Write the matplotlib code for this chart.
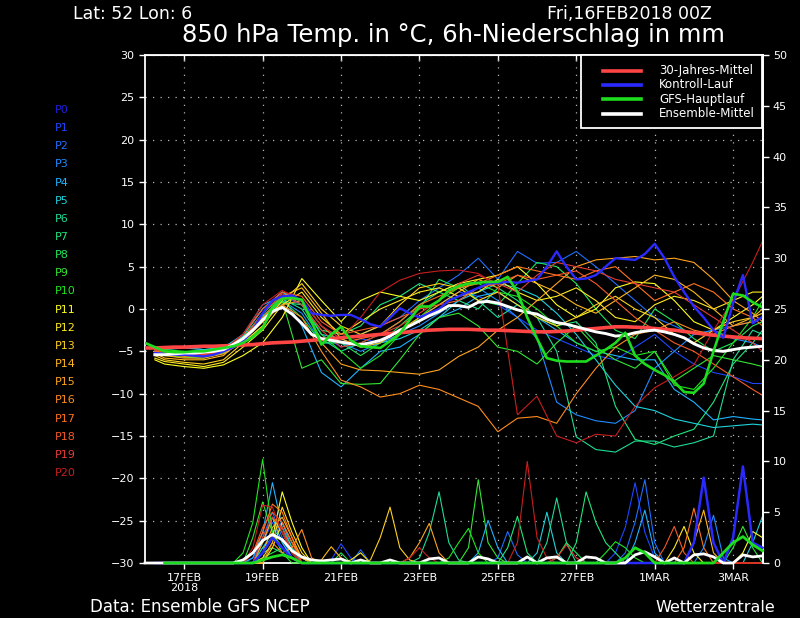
import matplotlib
matplotlib.use("Agg")
import matplotlib.pyplot as plt
from matplotlib.lines import Line2D
from matplotlib.patches import Rectangle

# ---------------- data ----------------
# forecast hours from 16FEB2018 00Z
member_hours = [6] + list(range(12, 373, 12)) + [378]
hours_6h_from0 = list(range(0, 379, 6))
hours_6h_from6 = list(range(6, 379, 6))

date_tick_hours = [24, 72, 120, 168, 216, 264, 312, 360]
date_tick_labels = ["17FEB\n2018", "19FEB", "21FEB", "23FEB", "25FEB", "27FEB", "1MAR", "3MAR"]

member_names = ["P%d" % i for i in range(21)]
member_colors = ["#2020e0", "#1e46ff", "#1e6eff", "#1e8cff", "#1eb4ff", "#1ed2dc",
                 "#1edc96", "#1ee67d", "#1ee65a", "#32e632", "#1ee61e", "#ffff1e",
                 "#ffeb1e", "#ffd21e", "#ffb91e", "#ffa51e", "#ff8c1e", "#ff731e",
                 "#f55a28", "#e63c32", "#c81e1e"]

# 850 hPa temperature of the perturbed members (deg C)
temp_P1 = [-5.0,-5.3,-5.5,-5.6,-5.0,-3.5,-0.5,1.5,0.5,-3.0,-4.5,-3.5,-4.0,-3.0,-1.0,0.5,2.0,1.5,0.5,-1.0,-2.5,-3.5,-4.5,-5.5,-6.0,-4.5,-3.0,-5.0,-6.5,-7.5,-8.0,-8.8,-8.8]
temp_P2 = [-5.2,-5.0,-5.2,-5.4,-4.8,-3.0,0.0,2.0,1.0,-2.0,-3.5,-3.0,-2.0,-1.0,1.0,2.5,4.0,6.0,3.5,6.8,5.4,5.5,6.8,5.0,3.0,1.0,-1.0,-2.0,-3.0,-2.5,-2.0,-1.5,-1.0]
temp_P3 = [-4.8,-5.0,-5.3,-5.5,-5.2,-3.8,-1.0,1.0,-0.5,-4.0,-4.0,-5.0,-4.0,-3.0,-2.0,-0.5,1.0,2.5,1.0,-1.0,-3.5,-11.0,-12.5,-13.2,-13.5,-12.0,-7.0,-5.0,-3.0,-2.5,-3.5,-4.0,-4.5]
temp_P4 = [-4.8,-4.5,-4.5,-4.8,-4.6,-3.0,0.5,1.5,-2.0,-7.5,-9.2,-7.0,-5.0,-4.5,-3.0,-1.0,0.0,1.5,2.0,0.5,-1.0,-2.5,-4.0,-5.0,-5.5,-6.0,-6.0,-9.5,-11.0,-13.1,-12.7,-13.0,-13.1]
temp_P5 = [-5.0,-4.8,-4.6,-4.8,-4.5,-3.2,0.0,2.0,0.5,-3.0,-3.5,-4.5,-4.0,-3.5,-2.5,-1.0,1.0,2.0,3.0,2.5,1.5,-0.5,-3.0,-6.0,-9.0,-11.5,-12.0,-13.0,-13.5,-14.0,-13.8,-13.6,-13.7]
temp_P6 = [-5.0,-5.0,-5.1,-5.3,-4.9,-3.3,-0.8,1.2,0.0,-3.5,-5.0,-4.0,-3.0,-1.5,0.5,2.0,3.0,1.0,-1.0,0.5,-1.0,-5.0,-15.1,-16.6,-16.9,-15.6,-15.6,-16.3,-15.8,-15.0,-6.0,-2.5,-3.0]
temp_P7 = [-5.1,-5.2,-5.4,-5.5,-5.0,-3.7,-1.2,0.8,0.5,-2.5,-3.0,-2.0,0.5,1.5,3.0,2.0,1.0,0.0,2.5,1.0,-1.0,-2.0,-1.5,-4.0,-11.5,-15.4,-16.0,-15.0,-14.2,-11.0,-6.5,-4.0,-2.5]
temp_P8 = [-5.0,-5.1,-5.3,-5.4,-5.0,-3.6,-1.0,1.0,-1.0,-4.0,-4.0,-5.5,-4.0,-2.0,0.0,3.5,2.5,1.0,0.5,3.0,5.5,5.0,3.0,0.0,-2.5,-3.5,0.0,-1.5,-3.5,-5.0,-4.0,-2.0,-1.5]
temp_P9 = [-5.2,-5.5,-5.7,-5.8,-5.2,-4.0,-2.0,1.0,-7.0,-6.0,-8.8,-8.9,-8.8,-6.0,-3.0,-1.0,-0.5,-2.0,-4.5,-5.0,-6.5,-4.0,-2.0,-4.5,-6.0,-7.0,-5.0,-8.5,-7.0,-5.5,-6.0,-6.5,-6.8]
temp_P10 = [-4.6,-4.8,-5.0,-5.2,-4.8,-3.4,-0.5,1.5,1.0,-3.0,-5.0,-7.0,-5.5,-3.0,-1.0,1.0,2.5,3.0,2.0,1.5,0.0,-2.0,-4.0,-5.0,-4.5,-5.5,-5.0,-9.0,-9.5,-7.0,-4.0,-1.0,1.0]
temp_P11 = [-6.0,-6.5,-6.8,-7.0,-6.6,-5.5,-4.0,-1.0,3.6,1.0,-1.5,1.0,2.0,1.5,1.0,2.0,3.0,3.5,4.0,5.0,3.0,0.5,-1.0,0.0,2.5,3.2,3.0,1.0,-1.5,-2.5,-1.0,0.5,1.5]
temp_P12 = [-5.8,-6.2,-6.5,-6.8,-6.3,-4.5,-2.5,0.5,2.0,-1.0,-3.0,-1.5,0.0,1.0,2.0,2.5,1.5,2.0,3.5,2.0,1.0,1.5,2.5,1.0,-1.0,-1.5,0.5,1.5,1.0,0.0,1.0,2.0,2.0]
temp_P13 = [-5.5,-6.0,-6.3,-6.5,-6.0,-4.0,-2.0,1.0,3.0,0.0,-2.0,-3.0,-2.0,0.5,2.5,3.0,2.5,1.0,2.0,0.5,-1.0,-2.0,-1.0,0.5,1.5,0.0,-1.0,-3.0,-4.0,-2.5,-1.5,-1.0,-0.5]
temp_P14 = [-5.2,-5.8,-6.0,-6.0,-5.5,-3.5,-1.5,1.5,2.5,-0.5,-3.5,-4.5,-4.0,-2.5,-1.0,0.5,2.0,3.5,2.5,4.0,3.0,2.0,0.5,-0.5,1.0,2.5,4.0,3.5,2.0,0.0,-2.0,-1.0,0.0]
temp_P15 = [-5.0,-5.5,-5.8,-5.8,-5.3,-3.8,-1.5,0.5,1.0,-4.0,-6.5,-7.2,-7.3,-7.5,-7.7,-7.2,-5.6,-4.5,-2.5,-1.0,1.0,3.0,5.0,5.8,6.0,6.2,5.8,6.0,5.5,3.5,1.0,-0.5,-1.5]
temp_P16 = [-5.0,-5.3,-5.6,-5.5,-5.0,-3.8,-1.5,0.5,-1.0,-5.0,-8.4,-9.2,-10.4,-10.0,-9.0,-9.5,-10.5,-11.5,-14.5,-12.9,-12.7,-13.5,-10.0,-7.0,-4.5,-3.0,-2.5,-1.5,-2.5,-3.0,-2.0,-1.5,-1.0]
temp_P17 = [-5.0,-5.0,-5.2,-5.3,-4.8,-3.5,-1.0,1.5,1.0,-2.0,-4.0,-3.5,-3.0,-1.5,0.5,1.5,2.5,3.0,4.0,5.0,4.5,4.0,3.5,4.5,5.0,3.0,1.0,2.0,3.0,2.0,0.0,-1.0,-2.0]
temp_P18 = [-4.8,-5.0,-5.2,-5.4,-5.0,-3.0,0.0,2.0,1.5,-1.5,-3.0,-2.5,-2.0,-1.0,0.0,0.5,1.0,2.5,3.0,4.0,3.5,4.0,4.5,3.0,1.0,-1.0,-2.5,-4.0,-5.0,-6.5,-8.0,-9.5,-10.2]
temp_P19 = [-4.8,-5.1,-5.3,-5.5,-5.0,-3.5,-0.5,1.8,0.5,-2.5,-4.5,-4.0,-3.0,-2.0,-0.5,1.0,3.0,4.0,3.0,2.0,4.0,5.5,5.0,4.5,3.5,3.0,2.5,2.0,0.5,-1.0,-2.5,-4.0,-5.0]
temp_P20 = [-4.6,-5.0,-5.2,-5.3,-4.8,-3.0,0.5,2.2,1.0,-2.0,-3.5,-1.0,2.0,3.4,4.2,4.5,4.6,4.2,2.8,-12.5,-10.3,-15.0,-15.8,-14.8,-15.0,-11.5,-9.3,-8.0,-6.6,-2.5,1.0,5.5,8.0]

temp_members = [temp_P1, temp_P2, temp_P3, temp_P4, temp_P5, temp_P6, temp_P7,
                temp_P8, temp_P9, temp_P10, temp_P11, temp_P12, temp_P13, temp_P14,
                temp_P15, temp_P16, temp_P17, temp_P18, temp_P19, temp_P20]

# control run (P0), 6-hourly from h6
temp_control = [-5.2,-5.3,-5.4,-5.4,-5.5,-5.6,-5.4,-5.0,
                -4.5,-3.8,-2.5,-0.5,1.0,1.5,1.6,1.0,
                -0.5,-0.7,-0.8,-0.7,-0.7,-1.2,-1.8,-2.1,
                -1.0,0.1,-0.5,-1.0,-0.5,0.0,1.0,1.5,
                2.0,2.5,3.0,3.1,3.2,3.1,3.3,3.5,
                5.0,6.8,5.0,3.5,3.6,4.0,5.0,6.0,
                5.9,5.8,6.5,7.7,6.0,3.8,2.0,0.3,
                -1.0,-2.5,-3.4,0.7,4.0,-1.7,-0.9]
# GFS main run, 6-hourly from h0
temp_gfs = [-4.0,-4.5,-5.0,-5.1,-5.1,-5.0,-5.0,-4.8,
            -4.6,-4.4,-4.0,-3.3,-2.3,0.2,1.2,1.3,
            1.1,-1.5,-4.2,-3.0,-2.1,-3.7,-4.4,-4.5,
            -4.6,-3.8,-2.9,-1.3,0.3,0.3,1.0,2.2,
            2.7,3.0,3.1,3.2,3.2,3.8,2.0,-1.0,
            -3.5,-5.8,-6.1,-6.2,-6.2,-6.2,-5.5,-4.8,
            -4.0,-2.8,-5.5,-6.5,-7.2,-7.8,-8.6,-9.8,
            -9.9,-8.8,-5.0,-1.5,1.8,1.6,0.8,0.2]
# ensemble mean, 6-hourly from h6
temp_mean = [-5.4,-5.4,-5.3,-5.2,-5.2,-5.1,-5.0,-4.8,
             -4.2,-3.5,-2.5,-1.3,-0.3,0.2,-0.6,-1.7,
             -3.0,-3.5,-3.7,-3.9,-4.1,-4.2,-4.0,-3.7,
             -3.2,-2.5,-2.0,-1.4,-0.8,-0.3,0.4,0.4,
             0.2,0.8,0.9,0.7,0.3,-0.1,-0.4,-0.6,
             -1.2,-1.6,-1.8,-2.1,-2.4,-2.7,-2.9,-3.2,
             -3.1,-2.8,-2.6,-2.5,-2.7,-3.0,-3.4,-4.1,
             -4.6,-4.9,-5.0,-4.8,-4.6,-4.5,-4.4]
# 30-year climatological mean, 6-hourly from h0
temp_clim = [-4.6,-4.6,-4.55,-4.5,-4.5,-4.45,-4.4,-4.4,
             -4.35,-4.3,-4.25,-4.2,-4.1,-4.0,-3.95,-3.9,
             -3.8,-3.7,-3.6,-3.5,-3.4,-3.3,-3.2,-3.1,
             -3.0,-2.9,-2.8,-2.7,-2.6,-2.5,-2.45,-2.4,
             -2.4,-2.4,-2.45,-2.5,-2.5,-2.55,-2.6,-2.65,
             -2.7,-2.7,-2.65,-2.6,-2.5,-2.4,-2.3,-2.2,
             -2.1,-2.1,-2.15,-2.2,-2.3,-2.4,-2.5,-2.65,
             -2.8,-2.95,-3.1,-3.2,-3.3,-3.4,-3.45,-3.5]

# 6h precipitation (mm): (hour, amount) for the non-zero steps, zero elsewhere
rain_P1 = [(66,0.5),(72,2.0),(78,4.0),(84,2.0),(90,0.5),(114,0.3),(120,1.9),(126,0.5),(288,1.0),(294,3.5),(300,7.9),(306,3.0),(312,0.5)]
rain_P2 = [(72,2.5),(78,5.0),(84,2.5),(90,0.5),(132,1.3),(216,0.5),(222,3.1),(228,0.8),(294,1.0),(300,4.0),(306,8.2),(312,2.0)]
rain_P3 = [(72,1.5),(78,3.0),(84,4.0),(90,1.5),(342,1.5),(348,4.7),(354,0.5)]
rain_P4 = [(66,0.5),(72,3.0),(78,7.9),(84,3.5),(90,1.0),(204,1.0),(210,4.2),(216,1.5),(300,2.0),(306,5.2),(312,1.0)]
rain_P5 = [(72,2.0),(78,4.5),(84,2.0),(90,0.5),(240,1.0),(246,5.0),(252,1.0),(372,2.0),(378,4.6)]
rain_P6 = [(72,1.5),(78,2.5),(84,3.5),(90,1.5),(96,0.5),(168,0.5),(174,3.0),(180,7.0),(186,2.0),(192,0.3),(246,2.0),(252,6.4),(258,2.0)]
rain_P7 = [(72,1.0),(78,1.5),(84,1.0),(90,0.5),(222,1.5),(228,4.6),(234,1.0),(264,2.0),(270,7.0),(276,4.0),(282,2.0),(288,1.0)]
rain_P8 = [(72,0.5),(78,1.0),(84,1.5),(90,0.5),(120,1.0),(252,0.5),(258,2.0),(264,1.0)]
rain_P9 = [(66,2.5),(72,6.0),(78,3.0),(84,1.5),(90,0.5),(198,1.5),(204,8.2),(210,2.0),(216,0.5),(360,1.5),(366,3.6),(372,1.5)]
rain_P10 = [(60,1.0),(66,4.0),(72,10.2),(78,3.0),(84,1.0),(186,0.5),(192,2.0),(198,3.4),(204,1.0),(282,1.0),(288,2.1),(294,1.5),(300,0.5)]
rain_P11 = [(72,1.0),(78,2.5),(84,7.0),(90,4.0),(96,1.5),(366,1.0),(372,3.1),(378,2.5)]
rain_P12 = [(78,1.5),(84,4.0),(90,2.0),(96,0.5),(126,0.3),(132,1.0),(324,1.5),(330,3.6),(336,1.0)]
rain_P13 = [(72,0.5),(78,2.0),(84,5.5),(90,3.0),(96,1.0),(138,0.3),(144,2.5),(150,5.5),(156,1.5),(162,0.3)]
rain_P14 = [(72,1.0),(78,3.5),(84,4.5),(90,2.5),(96,0.5),(108,0.3),(114,1.6),(120,0.5),(336,2.0),(342,5.2),(348,1.0)]
rain_P15 = [(72,2.0),(78,4.5),(84,3.0),(90,1.0),(162,0.5),(168,2.0),(174,3.9),(180,1.0)]
rain_P16 = [(78,2.0),(84,1.0),(90,1.5),(96,3.3),(102,0.5)]
rain_P17 = [(66,1.0),(72,3.0),(78,5.8),(84,5.0),(90,2.5),(330,1.5),(336,5.4),(342,1.5)]
rain_P18 = [(66,1.0),(72,3.5),(78,5.0),(84,4.0),(90,2.0),(318,1.5),(324,3.6),(330,1.0)]
rain_P19 = [(72,2.5),(78,4.5),(84,3.5),(90,1.0),(252,0.5),(258,1.8),(264,0.5)]
rain_P20 = [(66,1.5),(72,5.7),(78,5.5),(84,3.0),(90,1.0),(162,0.5),(168,1.5),(174,0.5),(228,2.0),(234,10.0),(240,2.5),(246,0.5)]
rain_members = [rain_P1, rain_P2, rain_P3, rain_P4, rain_P5, rain_P6, rain_P7,
                rain_P8, rain_P9, rain_P10, rain_P11, rain_P12, rain_P13, rain_P14,
                rain_P15, rain_P16, rain_P17, rain_P18, rain_P19, rain_P20]
rain_control = [(72,1.0),(78,2.5),(84,1.5),(90,0.5),(336,2.0),(342,8.4),(348,2.0),(360,2.5),(366,9.5),(372,2.0),(378,1.5)]
rain_gfs = [(72,0.3),(78,0.6),(84,0.8),(90,0.5),(294,0.5),(300,1.5),(306,1.0),(354,1.0),(360,2.0),(366,2.6),(372,1.8),(378,1.2)]
rain_mean = [(60,0.3),(66,1.0),(72,2.2),(78,2.8),(84,2.3),(90,1.2),(96,0.6),(102,0.3),(108,0.2),(114,0.3),
             (120,0.4),(132,0.3),(150,0.3),(174,0.4),(180,0.5),(204,0.6),(210,0.4),(234,0.6),(246,0.5),
             (252,0.6),(270,0.6),(276,0.5),(300,0.8),(306,1.1),(312,0.6),(324,0.5),(336,0.8),(342,0.9),
             (348,0.6),(366,0.8),(372,0.6),(378,0.7)]

CLIM_COLOR = "#ff4444"
CTRL_COLOR = "#2a2aff"
GFS_COLOR = "#1edc1e"
MEAN_COLOR = "#ffffff"


def dense_rain(events, start):
    d = dict(events)
    hrs = list(range(start, 379, 6))
    return hrs, [d.get(h, 0.0) for h in hrs]


# ---------------- figure ----------------
W, H = 800, 618
fig = plt.figure(figsize=(W / 100, H / 100), dpi=100, facecolor="black")
plt.rcParams["font.family"] = ["DejaVu Sans"]

ax = fig.add_axes([145 / W, 1 - 563 / H, (762.5 - 145) / W, (563 - 55) / H])
ax.set_facecolor("black")
ax.set_xlim(0, 378)
ax.set_ylim(-30, 30)

for s in ax.spines.values():
    s.set_color("white")
    s.set_linewidth(1.3)

ax.set_yticks(list(range(-30, 31, 5)))
ax.set_xticks(date_tick_hours)
ax.set_xticklabels(date_tick_labels, linespacing=0.95)
ax.tick_params(axis="both", colors="white", labelcolor="white", labelsize=8,
               direction="out", length=4, width=1)
ax.grid(True, color="#b4b4b4", linestyle=(0, (1, 5)), linewidth=0.9)
ax.set_axisbelow(True)

sec = ax.secondary_xaxis("top")
sec.set_xticks(date_tick_hours)
sec.set_xticklabels([])
sec.tick_params(axis="x", colors="white", direction="in", length=4, width=1)
sec.spines["top"].set_color("white")

# temperature spaghetti
for vals, col in zip(temp_members, member_colors[1:]):
    ax.plot(member_hours, vals, color=col, lw=0.8, solid_joinstyle="miter", zorder=2)
ax.plot(hours_6h_from0, temp_clim, color=CLIM_COLOR, lw=2.6, zorder=3)
ax.plot(hours_6h_from6, temp_control, color=CTRL_COLOR, lw=1.7, zorder=4)
ax.plot(hours_6h_from6, temp_mean, color=MEAN_COLOR, lw=2.1, zorder=5)
ax.plot(hours_6h_from0, temp_gfs, color=GFS_COLOR, lw=1.9, zorder=6)

# precipitation (right axis)
ax2 = ax.twinx()
ax2.set_ylim(0, 50)
ax2.set_yticks(list(range(0, 51, 5)))
ax2.tick_params(axis="y", colors="white", labelcolor="white", labelsize=8,
                direction="out", length=4, width=1)
for s in ax2.spines.values():
    s.set_visible(False)
ax2.spines["right"].set_visible(True)
ax2.spines["right"].set_color("white")
ax2.spines["right"].set_linewidth(1.3)

for ev, col in zip(rain_members, member_colors[1:]):
    hrs, vals = dense_rain(ev, 6)
    ax2.plot(hrs, vals, color=col, lw=0.8, clip_on=False, zorder=2)
hrs, vals = dense_rain(rain_control, 6)
ax2.plot(hrs, vals, color=CTRL_COLOR, lw=1.8, clip_on=False, zorder=3)
hrs, vals = dense_rain(rain_mean, 0)
ax2.plot(hrs, vals, color=MEAN_COLOR, lw=2.0, clip_on=False, zorder=4)
hrs, vals = dense_rain(rain_gfs, 12)
ax2.plot(hrs, vals, color=GFS_COLOR, lw=2.0, clip_on=False, zorder=5)

# legend box
def fx(px):
    return px / W


def fy(py):
    return 1 - py / H


fig.add_artist(Rectangle((fx(581), fy(128)), fx(762) - fx(581), fy(55) - fy(128),
                         transform=fig.transFigure, facecolor="black",
                         edgecolor="white", lw=1.3, zorder=10))
legend_items = [("30-Jahres-Mittel", CLIM_COLOR), ("Kontroll-Lauf", CTRL_COLOR),
                ("GFS-Hauptlauf", GFS_COLOR), ("Ensemble-Mittel", MEAN_COLOR)]
legend_rows = [70.5, 84.5, 99, 113.5]
for (lab, col), yy in zip(legend_items, legend_rows):
    fig.add_artist(Line2D([fx(603), fx(641)], [fy(yy), fy(yy)], color=col, lw=2.6,
                          transform=fig.transFigure, zorder=11))
    fig.text(fx(659), fy(yy), lab, color="white", fontsize=8.5, va="center",
             ha="left", zorder=12)

# member labels
for i, (name, col) in enumerate(zip(member_names, member_colors)):
    fig.text(fx(55), fy(110 + i * 18.15), name, color=col, fontsize=8,
             va="center", ha="left")

# header and footer texts
fig.text(fx(73), fy(14), "Lat: 52 Lon: 6", color="white", fontsize=12.5, va="center", ha="left")
fig.text(fx(712), fy(14), "Fri,16FEB2018 00Z", color="white", fontsize=12.5, va="center", ha="right")
fig.text(fx(453), fy(35), "850 hPa Temp. in °C, 6h-Niederschlag in mm", color="white",
         fontsize=17.5, va="center", ha="center")
fig.text(fx(90), fy(607), "Data: Ensemble GFS NCEP", color="white", fontsize=12,
         va="center", ha="left")
fig.text(fx(775), fy(607), "Wetterzentrale", color="white", fontsize=11.5,
         va="center", ha="right")

fig.savefig("out.png", dpi=100, facecolor="black")
